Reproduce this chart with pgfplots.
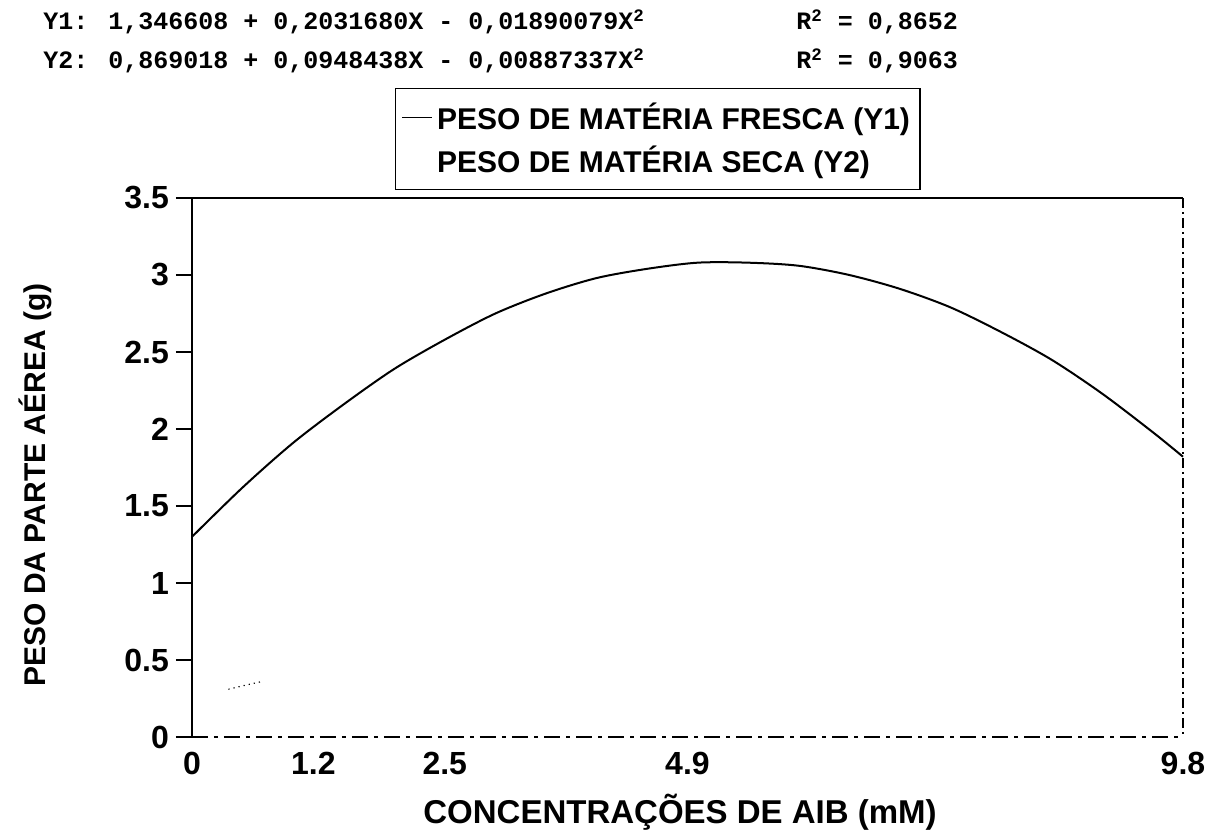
\documentclass[border=0pt]{standalone}
\usepackage{fontspec}
\setmainfont{Liberation Sans}
\newfontfamily\monofont{Liberation Mono}
\usepackage{pgfplots}
\pgfplotsset{compat=1.18}
\begin{document}
\begin{tikzpicture}
\useasboundingbox (-96pt,-46.5pt) rectangle (512pt,368.5pt);
\begin{axis}[
  at={(0,0)}, anchor=south west,
  scale only axis, width=495.5pt, height=269.5pt,
  xmin=0, xmax=9.8, ymin=0, ymax=3.5,
  axis line style={draw=none},
  xtick={0,1.2,2.5,4.9,9.8}, xticklabels={0,1.2,2.5,4.9,9.8},
  ytick={0,0.5,1,1.5,2,2.5,3,3.5}, yticklabels={0,0.5,1,1.5,2,2.5,3,3.5},
  xtick pos=bottom, ytick pos=left,
  x tick style={draw=none},
  y tick style={black, line width=1pt},
  tick align=outside, major tick length=8pt,
  ticklabel style={font=\fontsize{16}{18}\selectfont\bfseries},
  xticklabel style={yshift=4pt},
  xlabel={CONCENTRAÇÕES DE AIB (mM)},
  ylabel={PESO DA PARTE AÉREA (g)},
  xlabel style={at={(axis description cs:0.4925,0)}, anchor=center, yshift=-37.5pt, font=\fontsize{16.5}{18}\selectfont\bfseries},
  ylabel style={at={(axis description cs:-0.158,0.4675)}, anchor=center, font=\fontsize{15}{18}\selectfont\bfseries},
  legend style={at={(axis description cs:0.205,1.204)}, anchor=north west, draw=black, line width=0.6pt,
    font=\fontsize{15}{17}\selectfont\bfseries, inner xsep=3pt, inner ysep=5pt, row sep=3pt,
    cells={anchor=west}},
  legend image code/.code={\draw[black, line width=0.7pt] (0pt,0pt) -- (15pt,0pt);},
  clip=false,
]
\addplot[black, line width=1pt, smooth] coordinates {
(0,1.30) (0.5,1.62) (1.0,1.91) (1.5,2.16) (2.0,2.39) (2.5,2.58) (3.0,2.75)
(3.5,2.88) (4.0,2.98) (4.5,3.04) (5.0,3.08) (5.5,3.08) (6.0,3.06) (6.5,3.00)
(7.0,2.91) (7.5,2.79) (8.0,2.63) (8.5,2.45) (9.0,2.23) (9.5,1.98) (9.8,1.82)};
\addlegendentry{PESO DE MATÉRIA FRESCA (Y1)}
\addplot[black, dotted, line width=0.6pt, legend image code/.code={}] coordinates {
(0.36,0.31) (0.52,0.335) (0.69,0.36)};
\addlegendentry{PESO DE MATÉRIA SECA (Y2)}
\draw[black, line width=1pt] (rel axis cs:0,0) -- (rel axis cs:0,1);
\draw[black, line width=0.8pt] (rel axis cs:0,1) -- (rel axis cs:1,1);
\draw[black, line width=0.6pt, dash pattern=on 5pt off 2pt on 1pt off 2pt] (rel axis cs:1,1) -- (rel axis cs:1,0);
\draw[black, line width=0.6pt, dash pattern=on 8pt off 3pt on 2pt off 3pt] (rel axis cs:0,0) -- (rel axis cs:1,0);
\end{axis}
\node[anchor=west, inner sep=0pt, font=\fontsize{12.5}{15}\monofont\bfseries] at (-74.5pt,357.5pt) {Y1: 1,346608 + 0,2031680X - 0,01890079X\textsuperscript{2}};
\node[anchor=west, inner sep=0pt, font=\fontsize{12.5}{15}\monofont\bfseries] at (-74.5pt,338pt) {Y2: 0,869018 + 0,0948438X - 0,00887337X\textsuperscript{2}};
\node[anchor=west, inner sep=0pt, font=\fontsize{12.5}{15}\monofont\bfseries] at (302pt,357.5pt) {R\textsuperscript{2} = 0,8652};
\node[anchor=west, inner sep=0pt, font=\fontsize{12.5}{15}\monofont\bfseries] at (302pt,338pt) {R\textsuperscript{2} = 0,9063};
\end{tikzpicture}
\end{document}
